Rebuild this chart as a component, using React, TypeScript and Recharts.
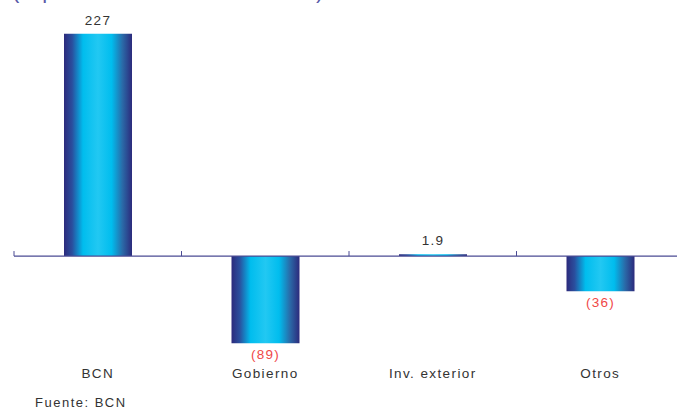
import { BarChart, Bar, XAxis, YAxis, ReferenceLine, LabelList, Cell } from "recharts";

const categories = ["BCN", "Gobierno", "Inv. exterior", "Otros"];
const values = [227, -89, 1.9, -36];
const yDomain: [number, number] = [-100, 240];

const data = categories.map((c, i) => ({ label: c, value: values[i] }));

const CHART_W = 684;
const CHART_H = 410;
const M = { top: 21, right: 0, left: 14, bottom: 26 };
const AXIS_H = 30;
const PLOT_H = CHART_H - M.top - M.bottom - AXIS_H;
const BAND = (CHART_W - M.left - M.right) / categories.length;
const ZERO_Y = M.top + (yDomain[1] / (yDomain[1] - yDomain[0])) * PLOT_H;

const axisColor = "#4b4b93";
const font = "'Liberation Sans', Arial, sans-serif";

const CatTick = (props: any) => {
  const { x, payload } = props;
  return (
    <g>
      <line x1={x - BAND / 2} x2={x - BAND / 2} y1={ZERO_Y - 5} y2={ZERO_Y} stroke={axisColor} strokeWidth={1} />
      <text x={x} y={378} textAnchor="middle" fontSize={13.5} fill="#333" fontFamily={font} letterSpacing={1.4}>
        {payload.value}
      </text>
    </g>
  );
};

const ValueLabel = (props: any) => {
  const { x, y, width, height, value } = props;
  const top = Math.min(y, y + height);
  const bottom = Math.max(y, y + height);
  const neg = value < 0;
  return (
    <text
      x={x + width / 2}
      y={neg ? bottom + 16 : top - 9}
      textAnchor="middle"
      fontSize={13.5}
      fontFamily={font}
      letterSpacing={1.3}
      fill={neg ? "#f04848" : "#333"}
    >
      {neg ? `(${Math.abs(value)})` : value}
    </text>
  );
};

export default function App() {
  return (
    <div
      style={{
        position: "fixed",
        left: 0,
        top: 0,
        width: 677,
        height: 410,
        overflow: "hidden",
        background: "#fff",
      }}
    >
      <div
        style={{
          position: "absolute",
          left: 12,
          top: -22,
          fontFamily: font,
          fontSize: 22,
          lineHeight: "25px",
          color: "#5a5aa8",
          letterSpacing: -0.1,
          whiteSpace: "nowrap",
        }}
      >
        (expresado en millones de US$)
      </div>
      <BarChart width={CHART_W} height={CHART_H} data={data} margin={M}>
        <defs>
          <linearGradient id="barGrad" x1="0" y1="0" x2="1" y2="0">
            <stop offset="0%" stopColor="#2c2a7c" />
            <stop offset="12%" stopColor="#2a4f9e" />
            <stop offset="28%" stopColor="#00bdee" />
            <stop offset="50%" stopColor="#22c8f2" />
            <stop offset="70%" stopColor="#00bdee" />
            <stop offset="86%" stopColor="#2a6aa8" />
            <stop offset="100%" stopColor="#2c2a7c" />
          </linearGradient>
        </defs>
        <YAxis hide domain={yDomain} />
        <XAxis
          dataKey="label"
          height={AXIS_H}
          axisLine={false}
          tickLine={false}
          tick={<CatTick />}
          interval={0}
        />
        <ReferenceLine y={0} stroke={axisColor} strokeWidth={1.2} />
        <Bar dataKey="value" barSize={68} isAnimationActive={false}>
          {data.map((d) => (
            <Cell key={d.label} fill="url(#barGrad)" />
          ))}
          <LabelList dataKey="value" content={<ValueLabel />} />
        </Bar>
      </BarChart>
      <div
        style={{
          position: "absolute",
          left: 35,
          top: 396,
          fontFamily: font,
          fontSize: 13,
          lineHeight: "14px",
          color: "#333",
          letterSpacing: 1.5,
          whiteSpace: "nowrap",
        }}
      >
        Fuente: BCN
      </div>
    </div>
  );
}
